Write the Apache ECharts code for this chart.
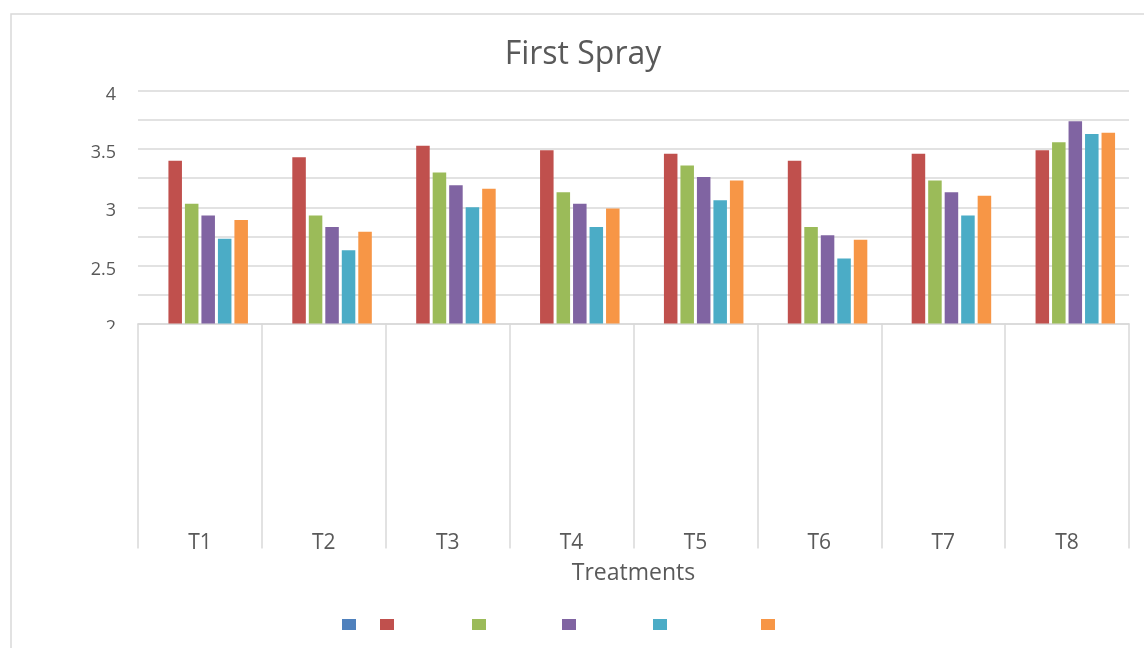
<!DOCTYPE html>
<html>
<head>
<meta charset="utf-8">
<script src="https://cdn.jsdelivr.net/npm/echarts@6/dist/echarts.min.js"></script>
<style>html,body{margin:0;padding:0;background:#fff}#c{width:1144px;height:648px}</style>
</head>
<body>
<div id="c"></div>
<script>
const categories = ['T1','T2','T3','T4','T5','T6','T7','T8'];
const seriesNames = ['Series 1','Series 2','Series 3','Series 4','Series 5','Series 6'];
const s1 = [null, null, null, null, null, null, null, null];
const s2 = [3.40, 3.43, 3.53, 3.49, 3.46, 3.40, 3.46, 3.49];
const s3 = [3.03, 2.93, 3.30, 3.13, 3.36, 2.83, 3.23, 3.56];
const s4 = [2.93, 2.83, 3.19, 3.03, 3.26, 2.76, 3.13, 3.74];
const s5 = [2.73, 2.63, 3.00, 2.83, 3.06, 2.56, 2.93, 3.63];
const s6 = [2.89, 2.79, 3.16, 2.99, 3.23, 2.72, 3.10, 3.64];
const yTicks = [2, 2.5, 3, 3.5, 4];
const titleText = 'First Spray';
const xName = 'Treatments';

const colors = ['#4F81BD','#C0504D','#9BBB59','#8064A2','#4BACC6','#F79646'];
const allData = [s1, s2, s3, s4, s5, s6];
const legendLefts = [342, 380, 472, 562, 653, 761];
const FONT = 'Open Sans';

const chart = echarts.init(document.getElementById('c'), null, {renderer: 'canvas'});
chart.setOption({
  animation: false,
  color: colors,
  textStyle: {fontFamily: FONT},
  title: {
    text: titleText,
    left: 583, top: 39, textAlign: 'center', padding: 0,
    textStyle: {fontFamily: FONT, fontSize: 32, fontWeight: 'normal', color: '#595959'}
  },
  legend: seriesNames.map((n, i) => ({
    data: [n], left: legendLefts[i], top: 619, padding: 0,
    itemWidth: 14, itemHeight: 11, itemGap: 0, icon: 'rect',
    formatter: () => '',
    textStyle: {fontSize: 11, lineHeight: 11, padding: 0}
  })),
  grid: {left: 138, right: 15, top: 91, bottom: 324.5, containLabel: false},
  xAxis: {
    type: 'category',
    data: categories,
    name: xName,
    nameLocation: 'middle',
    nameGap: 238,
    nameTextStyle: {fontFamily: FONT, fontSize: 23, color: '#595959'},
    axisLine: {lineStyle: {color: '#D9D9D9', width: 1.5}},
    axisTick: {show: true, length: 225, lineStyle: {color: '#D9D9D9', width: 1.5}},
    axisLabel: {margin: 209, fontFamily: FONT, fontSize: 21, color: '#595959'},
    splitLine: {show: false}
  },
  yAxis: {
    type: 'value',
    min: 2, max: 4, interval: 0.25,
    axisLine: {show: false},
    axisTick: {show: false},
    axisLabel: {
      margin: 22, fontFamily: FONT, fontSize: 18, color: '#595959',
      verticalAlign: 'top', lineHeight: 8,
      formatter: v => yTicks.some(t => Math.abs(t - v) < 1e-9) ? String(v) : ''
    },
    splitLine: {lineStyle: {color: '#D9D9D9', width: 1.5}}
  },
  series: seriesNames.map((n, i) => ({
    name: n,
    type: 'bar',
    data: allData[i],
    barGap: '22%',
    barCategoryGap: '22.5%',
    itemStyle: {color: colors[i]}
  })),
  graphic: [
    {type: 'rect', shape: {x: 11, y: 14, width: 1300, height: 800}, style: {fill: 'none', stroke: '#D9D9D9', lineWidth: 1.5}, silent: true, z: 100},
    {type: 'rect', shape: {x: 85, y: 329, width: 50, height: 14}, style: {fill: '#ffffff'}, silent: true, z: 100}
  ]
});
</script>
</body>
</html>
